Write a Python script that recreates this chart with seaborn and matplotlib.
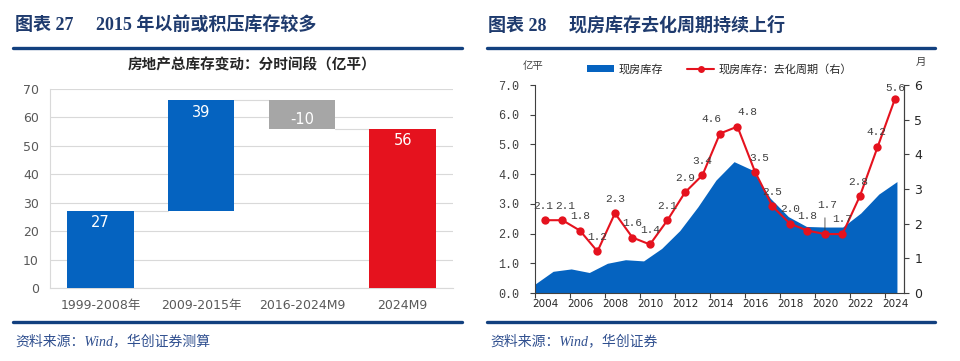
import matplotlib
matplotlib.use('Agg')
import matplotlib.pyplot as plt
from matplotlib.patches import Patch
from matplotlib.lines import Line2D
import numpy as np
import pandas as pd
import seaborn as sns

sns.set_theme(style='white')
plt.rcParams['font.family'] = ['DejaVu Sans', 'Noto Sans CJK SC']
plt.rcParams['axes.unicode_minus'] = False

# %% data - left panel (waterfall, 亿平)
periods = ['1999-2008年', '2009-2015年', '2016-2024M9', '2024M9']
changes = [27, 39, -10, 56]
is_total = [False, False, False, True]

# %% data - right panel
years = list(range(2004, 2025))
stock = [0.30, 0.73, 0.81, 0.69, 1.00, 1.12, 1.08, 1.50, 2.10, 2.90, 3.80,
         4.42, 4.14, 3.19, 2.57, 2.24, 2.22, 2.22, 2.69, 3.33, 3.75]   # 现房库存 亿平
months = [2.1, 2.1, 1.8, 1.2, 2.3, 1.6, 1.4, 2.1, 2.9, 3.4, 4.6,
          4.8, 3.5, 2.5, 2.0, 1.8, 1.7, 1.7, 2.8, 4.2, 5.6]          # 去化周期 月

navy = '#12407F'
blue = '#0563C0'
red = '#E5121E'
grey = '#A6A6A6'
serif_cjk = ['Liberation Serif', 'Noto Sans CJK SC']
mono = ['Liberation Mono', 'Noto Sans CJK SC']

fig = plt.figure(figsize=(9.6, 3.61), dpi=100)

# %% headers, rules, sources
fig.text(15/960, 1-25/361, '图表 27     2015 年以前或积压库存较多', family=serif_cjk,
         fontsize=13, fontweight='bold', color='#1F3B6E', va='center')
fig.text(488/960, 1-25/361, '图表 28     现房库存去化周期持续上行', family=serif_cjk,
         fontsize=13, fontweight='bold', color='#1F3B6E', va='center')
for x0, x1 in [(13, 462), (487, 935)]:
  fig.add_artist(Line2D([x0/960, x1/960], [1-48/361]*2, color=navy, lw=2.4))
  fig.add_artist(Line2D([x0/960, x1/960], [1-322/361]*2, color=navy, lw=2.4))
fig.text(15/960, 1-341/361, '资料来源：Wind，华创证券测算', family=serif_cjk,
         fontsize=10, style='italic', color='#2F4F8F', va='center')
fig.text(490/960, 1-341/361, '资料来源：Wind，华创证券', family=serif_cjk,
         fontsize=10, style='italic', color='#2F4F8F', va='center')

# %% left: waterfall
ax1 = fig.add_axes([50/960, 1-288/361, 403/960, 199/361])
bottoms, tops = [], []
run = 0
for c, tot in zip(changes, is_total):
  if tot:
    bottoms.append(0)
    tops.append(c)
  else:
    bottoms.append(run)
    run += c
    tops.append(run)
wf = pd.DataFrame({'period': periods, 'change': changes})
sns.barplot(data=wf, x='period', y='change', bottom=bottoms, width=0.66,
            color=blue, errorbar=None, ax=ax1, zorder=3, linewidth=0)
cols = []
for c, tot in zip(changes, is_total):
  cols.append(red if tot else (blue if c > 0 else grey))
for p, c in zip(ax1.patches, cols):
  p.set_facecolor(c)
# connectors between bars
for i in range(len(changes)-1):
  lvl = tops[i] if not is_total[i] else changes[i]
  ax1.plot([i+0.33, i+1-0.33], [lvl, lvl], color='#D9D9D9', lw=0.8, zorder=2)
# labels at the bar ends, inside
for i, c in enumerate(changes):
  end = tops[i] if c > 0 else bottoms[i] + c
  ax1.annotate(f'{c}', (i, end), xytext=(0, -3 if c > 0 else 1.5),
               textcoords='offset points', ha='center',
               va='top' if c > 0 else 'bottom', color='white', fontsize=10.5, zorder=4)
ax1.set_ylim(0, 70)
ax1.set_xlim(-0.5, 3.5)
ax1.set_yticks(range(0, 71, 10))
ax1.yaxis.grid(True, color='#D9D9D9', lw=0.8, zorder=0)
ax1.set_axisbelow(True)
for s in ['top', 'right']:
  ax1.spines[s].set_visible(False)
for s in ['left', 'bottom']:
  ax1.spines[s].set_color('#D9D9D9')
  ax1.spines[s].set_linewidth(0.8)
ax1.tick_params(length=0, labelcolor='#595959', labelsize=9, pad=8)
ax1.tick_params(axis='x', pad=8)
ax1.set_xlabel('')
ax1.set_ylabel('')
ax1.set_title('房地产总库存变动：分时间段（亿平）', fontsize=10.5, fontweight='bold',
              color='#262626', pad=14, family=['Noto Sans CJK SC'])

# %% right: area + de-stocking cycle
ax2 = fig.add_axes([535/960, 1-293/361, 369/960, 208/361])
ax2.fill_between(years, stock, 0, color=blue, lw=0, zorder=2)
ax2.set_xlim(years[0], years[-1] + 0.39)
ax2.set_ylim(0, 7)
ax2.set_yticks(np.arange(0, 7.1, 1))
ax2.set_yticklabels([f'{v:.1f}' for v in np.arange(0, 7.1, 1)], family=mono)
line_x = np.linspace(years[0] + 0.55, years[-1] - 0.11, len(years))
ax2.set_xticks(line_x[::2])
ax2.set_xticklabels([str(y) for y in years[::2]])
ax2.set_xticks(line_x[::2] - 0.55, minor=True)
ax2.tick_params(axis='x', which='major', length=0, labelsize=7.5, pad=4, labelcolor='#262626')
ax2.tick_params(axis='x', which='minor', length=3.5, width=0.8, color='#404040', direction='out', bottom=True)
ax2.tick_params(axis='y', length=3.5, width=0.8, color='#404040', direction='out', left=True,
                labelsize=8.5, labelcolor='#404040', pad=8)
for s in ['top']:
  ax2.spines[s].set_visible(False)
for s in ['left', 'bottom', 'right']:
  ax2.spines[s].set_color('#404040')
  ax2.spines[s].set_linewidth(0.8)

ax3 = ax2.twinx()
sns.lineplot(x=line_x, y=months, ax=ax3, color=red, lw=1.5, marker='o',
             markersize=6, markeredgewidth=0, zorder=5)
ax3.set_ylim(0, 6)
ax3.set_yticks(range(0, 7))
ax3.tick_params(axis='y', length=3.5, width=0.8, color='#404040', direction='out', right=True,
                labelsize=9, labelcolor='#262626', pad=4)
for s in ['top', 'left', 'bottom']:
  ax3.spines[s].set_visible(False)
ax3.spines['right'].set_color('#404040')
ax3.spines['right'].set_linewidth(0.8)

# point labels; a few are nudged off the curve
nudge = {0: (-1.5, 10.5), 1: (2, 10.5), 10: (-6, 10.5), 11: (7, 10.5), 12: (3, 10),
         16: (1.5, 21), 18: (-1.5, 10), 19: (-1, 11), 20: (0, 7.5)}
for i, (x, v) in enumerate(zip(line_x, months)):
  dx, dy = nudge.get(i, (0, 10.5))
  ax3.annotate(f'{v:.1f}', (x, v), xytext=(dx, dy), textcoords='offset points',
               ha='center', va='center', fontsize=8, color='#404040', family=mono, zorder=6)
# leader line for the crowded 2020 label
ax3.annotate('', (line_x[16], months[16]), xytext=(line_x[16], months[16] + 0.55),
             arrowprops=dict(arrowstyle='-', color='#404040', lw=0.6))

handles = [Patch(color=blue, lw=0),
           Line2D([], [], color=red, lw=1.5, marker='o', markersize=5, markeredgewidth=0)]
ax2.legend(handles, ['现房库存', '现房库存：去化周期（右）'], loc='center', ncol=2,
           bbox_to_anchor=(0.5, 1.075), frameon=False, fontsize=8, handlelength=2.4,
           handleheight=0.6, columnspacing=2.2, handletextpad=0.4)
fig.text(533/960, 1-66/361, '亿平', fontsize=7.5, color='#404040', ha='center', va='center')
fig.text(921/960, 1-62/361, '月', fontsize=7.5, color='#404040', ha='center', va='center')

fig.savefig('out.png', dpi=100)
